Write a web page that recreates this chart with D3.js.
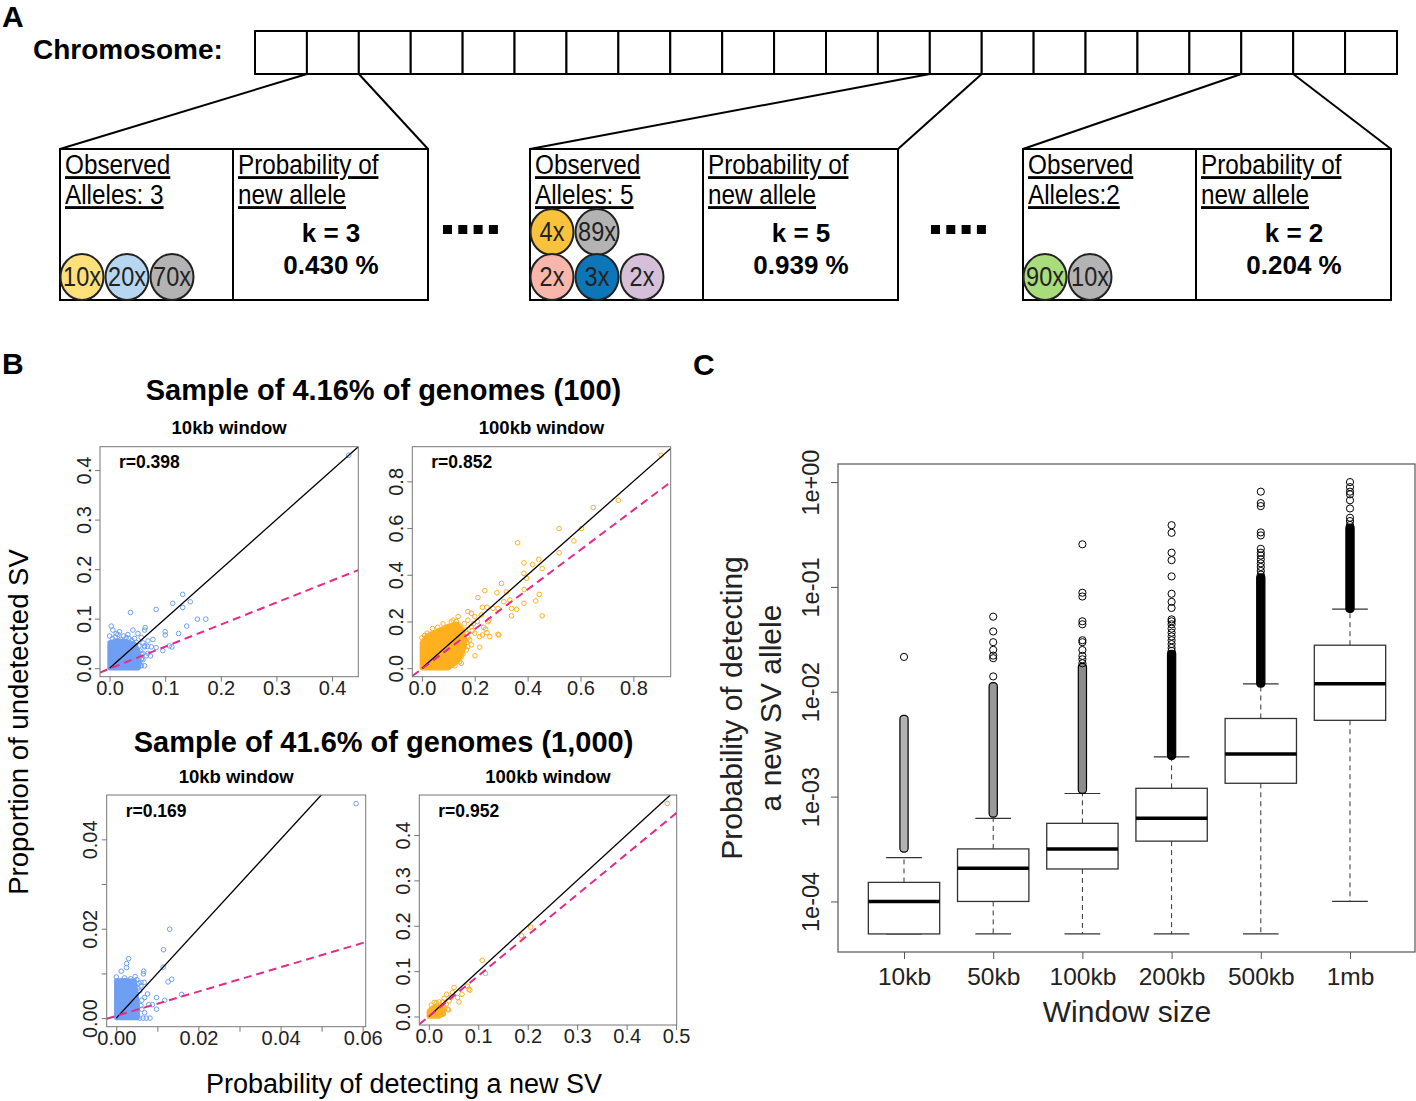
<!DOCTYPE html>
<html>
<head>
<meta charset="utf-8">
<script src="https://cdn.jsdelivr.net/npm/d3@7"></script>
<style>
  body { margin: 0; background: #fff; }
</style>
</head>
<body>
<div id="chart"></div>
<script>
// ---------------- Panel A data ----------------
var chromCells = d3.range(22);
var zoomCells = [1, 13, 19];
var alleleLabels = ["Alleles: 3", "Alleles: 5", "Alleles:2"];
var kValues = [3, 5, 2];
var newAllelePct = ["0.430", "0.939", "0.204"];
var alleleCounts = [[10, 20, 70], [4, 89, 2, 3, 2], [90, 10]];
var alleleColors = [
    ["#ffe07b", "#b7d7f1", "#b3b3b3"],
    ["#f9c23c", "#b3b3b3", "#f9b7ab", "#0d76b8", "#d6c0d9"],
    ["#a9dc7b", "#b3b3b3"]
];

// ---------------- Panel B data ----------------
var rowTitles = ["Sample of 4.16% of genomes (100)", "Sample of 41.6% of genomes (1,000)"];
var windowTitles = ["10kb window", "100kb window", "10kb window", "100kb window"];
var rValues = ["0.398", "0.852", "0.169", "0.952"];
var fitSlope = [0.445, 0.85, 0.272, 0.896];
var fitIntercept = [-0.001, -0.003, 0.0005, 0];

// scattered points
var pts10kb100 = [[0.43,0.43],[0.1315,0.149],[0.0837,0.1186],[0.0376,0.1125],[0.1136,0.131],[0.145,0.134],
    [0.1315,0.1226],[0.158,0.099],[0.173,0.099],[0.1387,0.085],[0.124,0.07],[0.1,0.0736],[0.1,0.067],
    [0.112,0.043],[0.1075,0.045],[0.0957,0.0354],[0.0837,0.0414],[0.0735,0.0247],[0.063,0.005],[0.078,0.058],
    [0.075,0.043],[0.063,0.077],[0.064,0.082],[0.042,0.077],[0.018,0.0736],[0.012,0.07],[0.003,0.085],
    [0.006,0.077],[0.051,0.07],[0.057,0.062],[0.06,0.051],[0.063,0.043],[0.069,0.055],[0.057,0.018],
    [0.051,0.01],[0.005,0.06],[0.01,0.063],[0.02,0.058],[0.025,0.065],[0.03,0.062],[0.035,0.06],[0.04,0.056],
    [0.045,0.06],[0.055,0.035],[0.058,0.028],[0.058,0.02],[0.055,0.005],[0.06,0.03],[0.066,0.025],[0.069,0.03],
    [0.068,0.044],[0.063,0.045],[0.053,0.045],[0.06,0.017],[0.057,0.005],[0,0.065],[0.015,0.068],[0.033,0.068],
    [0.048,0.052]];
var pts100kb100 = [[0.905,0.912],[0.743,0.719],[0.648,0.688],[0.604,0.598],[0.575,0.545],[0.519,0.598],
    [0.519,0.494],[0.362,0.537],[0.442,0.466],[0.455,0.427],[0.419,0.444],[0.386,0.451],[0.386,0.406],
    [0.396,0.385],[0.301,0.363],[0.455,0.224],[0.444,0.316],[0.431,0.288],[0.386,0.278],[0.358,0.252],
    [0.339,0.224],[0.288,0.145],[0.238,0.332],[0.284,0.323],[0.32,0.327],[0.387,0.337],[0.212,0.303],
    [0.31,0.285],[0.333,0.292],[0.339,0.256],[0.288,0.256],[0.269,0.256],[0.246,0.261],[0.229,0.261],
    [0.174,0.242],[0.187,0.235],[0.25,0.199],[0.254,0.206],[0.234,0.175],[0.241,0.167],[0.219,0.135],
    [0.229,0.142],[0.246,0.152],[0.257,0.135],[0.291,0.142],[0.219,0.09],[0.201,0.053],[0.137,0.221],
    [0.174,0.206],[0.187,0.178],[0.2,0.15],[0.181,0.121],[0.187,0.1],[0.168,0.078],[0.174,0.092],
    [0.149,0.05],[0.143,0.028],[0.111,0.014],[0.149,0.021],[0.111,0.199],[0.118,0.206],[0.099,0.178],
    [0.09,0.167],[0.166,0.164],[0.155,0.135],[0.225,0.228],[0.2,0.221],[0.02,0.15],[0.04,0.17],[0.06,0.175],
    [0.08,0.19],[0.13,0.2],[0.14,0.185],[0.16,0.19],[0.17,0.15],[0.175,0.13],[0.17,0.11],[0.16,0.09],
    [0.155,0.06],[0.14,0.04],[0.125,0.01],[0,0.13],[0.01,0.14],[0.19,0.16],[0.21,0.2],[0.195,0.19],
    [0.13,0.05],[0.1,0.005]];
var pts10kb1000 = [[0.0584,0.048],[0.013,0.0199],[0.0115,0.0153],[0.0114,0.0114],[0.003,0.0133],
    [0.0025,0.0122],[0.0025,0.0113],[0.0012,0.0105],[0.0067,0.0105],[0.0066,0.0099],[0.0046,0.0093],
    [0.0135,0.0087],[0.0126,0.0081],[0.0159,0.0053],[0.0098,0.0046],[0.0118,0.004],[0.0098,0.002],
    [0.006,0.0028],[0.0079,0.003],[0.0088,0.003],[0.0069,0.0012],[0.0073,0],[0.0057,0],[0.006,0.008],
    [0.0068,0.008],[0.0076,0.0054],[0.0069,0.0046],[0.0057,0.0061],[0.006,0.0072],[0.0053,0.0067],
    [0.0065,0],[0.0082,0],[0,0.0092],[0.002,0.009],[0.0035,0.0088],[0.005,0.0086],[0.0062,0.004],
    [0.0062,0.002],[0.0055,0.0078]];
var pts100kb1000 = [[0.482,0.4695],[0.206,0.197],[0.1875,0.178],[0.108,0.124],[0.1145,0.095],[0.081,0.06],
    [0.078,0.067],[0.051,0.064],[0.067,0.049],[0.061,0.032],[0.036,0.049],[0.041,0.034],[0.045,0.042],
    [0.018,0.023],[0.025,0.023],[0.038,0.016],[0.028,0.012],[0.048,0.053],[0.031,0.04],[0.028,0.032],
    [0.021,0.032],[0.011,0.031],[0.04,0.0145],[0.031,0.02],[0.035,0.027],[0.058,0.042],[0.083,0.058],
    [0.005,0.025],[0.015,0.03]];

// overplotted cores (solid blobs of points)
var core10kb100 = [[0,0],[0,0.052],[0.015,0.056],[0.03,0.054],[0.045,0.049],[0.052,0.034],[0.054,0.012],[0.052,0]];
var core100kb100 = [[0,0],[0,0.11],[0.02,0.14],[0.06,0.16],[0.1,0.18],[0.13,0.19],[0.15,0.17],[0.165,0.12],
    [0.155,0.07],[0.13,0.025],[0.1,0]];
var core10kb1000 = [[0,0],[0,0.0084],[0.002,0.0085],[0.0045,0.0083],[0.0048,0.006],[0.0052,0.003],[0.0052,0]];
var core100kb1000 = [[0,0],[0,0.012],[0.008,0.02],[0.02,0.022],[0.03,0.018],[0.03,0.005],[0.02,0]];

// ---------------- Panel C data ----------------
var windowSizes = ["10kb", "50kb", "100kb", "200kb", "500kb", "1mb"];
var whiskerLow = [4.9e-5, 4.9e-5, 4.9e-5, 4.9e-5, 4.9e-5, 1.0e-4];
var quart1 = [4.9e-5, 1.0e-4, 2.04e-4, 3.76e-4, 1.34e-3, 5.34e-3];
var medians = [1.0e-4, 2.07e-4, 3.17e-4, 6.2e-4, 2.55e-3, 1.19e-2];
var quart3 = [1.52e-4, 3.17e-4, 5.56e-4, 1.2e-3, 5.56e-3, 2.78e-2];
var whiskerHigh = [2.62e-4, 6.2e-4, 1.07e-3, 2.39e-3, 1.19e-2, 6.15e-2];
// ranges where outliers overlap into a continuous column
var outlierRuns = [[3.2e-4, 5.5e-3], [6.9e-4, 1.13e-2], [1.16e-3, 1.72e-2], [2.45e-3, 2.3e-2], [1.2e-2, 1.23e-1], [6.2e-2, 3.67e-1]];
var outliers = [
    [2.15e-2],
    [1.4e-2, 2.09e-2, 2.21e-2, 2.51e-2, 2.97e-2, 3.76e-2, 5.2e-2],
    [1.87e-2, 2.04e-2, 2.2e-2, 2.5e-2, 2.97e-2, 3.1e-2, 4.4e-2, 4.7e-2, 8.1e-2, 8.8e-2, 0.255],
    [2.45e-2, 2.62e-2, 2.85e-2, 3.1e-2, 3.37e-2, 3.66e-2, 4.0e-2, 4.4e-2, 4.7e-2, 4.9e-2, 6.3e-2, 7.2e-2, 8.6e-2, 0.126, 0.18, 0.212, 0.328, 0.388],
    [0.131, 0.142, 0.155, 0.168, 0.183, 0.199, 0.212, 0.231, 0.31, 0.331, 0.59, 0.63, 0.81],
    [0.39, 0.425, 0.457, 0.56, 0.67, 0.764, 0.81, 0.895, 1.0]
];
var yTicksC = [1e-4, 1e-3, 1e-2, 1e-1, 1];

// ---------------- drawing ----------------
var FONT = "'Liberation Sans', Arial, sans-serif";

var svg = d3.select("#chart").append("svg")
    .attr("width", 1416)
    .attr("height", 1101)
    .style("font-family", FONT);

function label(x, y, txt, size, bold) {
    return svg.append("text").attr("x", x).attr("y", y)
        .attr("font-size", size).attr("font-weight", bold ? "bold" : "normal")
        .text(txt);
}

// tall, narrow text as in the schematic (stretched vertically)
function narrowText(parent, x, y, txt, size) {
    return parent.append("text")
        .attr("transform", "translate(" + x + "," + y + ") scale(1,1.17)")
        .attr("font-size", size).text(txt);
}

label(2, 27, "A", 30, true);
label(2, 374, "B", 30, true);
label(693, 375, "C", 30, true);

// ****************** Panel A ******************
var gA = svg.append("g");
gA.append("text").attr("x", 33).attr("y", 59).attr("font-size", 28)
    .attr("font-weight", "bold").text("Chromosome:");

var xChrom = d3.scaleBand().domain(chromCells).range([255, 1397]);
gA.selectAll("rect.cell").data(chromCells).join("rect")
    .attr("class", "cell")
    .attr("x", function (d) { return xChrom(d); })
    .attr("y", 31)
    .attr("width", xChrom.bandwidth())
    .attr("height", 43)
    .attr("fill", "#fff").attr("stroke", "#000").attr("stroke-width", 2);

var boxLeft = [60, 530, 1023], boxW = 368, boxTop = 149, boxBottom = 300, split = 173;

zoomCells.forEach(function (cell, i) {
    var L = boxLeft[i], g = gA.append("g");
    // zoom lines
    g.append("line").attr("x1", L).attr("y1", boxTop).attr("x2", xChrom(cell)).attr("y2", 74)
        .attr("stroke", "#000").attr("stroke-width", 2);
    g.append("line").attr("x1", L + boxW).attr("y1", boxTop).attr("x2", xChrom(cell) + xChrom.bandwidth()).attr("y2", 74)
        .attr("stroke", "#000").attr("stroke-width", 2);
    g.append("rect").attr("x", L).attr("y", boxTop).attr("width", boxW).attr("height", boxBottom - boxTop)
        .attr("fill", "#fff").attr("stroke", "#000").attr("stroke-width", 2);
    g.append("line").attr("x1", L + split).attr("x2", L + split).attr("y1", boxTop).attr("y2", boxBottom)
        .attr("stroke", "#000").attr("stroke-width", 2);

    var heads = [["Observed", alleleLabels[i]], ["Probability of", "new allele"]];
    heads.forEach(function (lines, c) {
        lines.forEach(function (t, r) {
            narrowText(g, L + 5 + c * split, 174 + r * 30, t, 24.3)
                .style("text-decoration", "underline");
        });
    });
    g.append("text").attr("x", L + split + 98).attr("y", 242).attr("text-anchor", "middle")
        .attr("font-size", 26).attr("font-weight", "bold").text("k = " + kValues[i]);
    g.append("text").attr("x", L + split + 98).attr("y", 274).attr("text-anchor", "middle")
        .attr("font-size", 26).attr("font-weight", "bold").text(newAllelePct[i] + " %");

    // allele circles: bottom row holds the last three, the rest sit above
    var counts = alleleCounts[i], n = counts.length, nBottom = Math.min(3, n);
    var circ = g.selectAll("g.allele").data(counts).join("g").attr("class", "allele")
        .attr("transform", function (d, j) {
            var top = j < n - nBottom;
            var col = top ? j : j - (n - nBottom);
            return "translate(" + (L + 22 + col * 45) + "," + (top ? 232 : 277) + ")";
        });
    circ.append("ellipse").attr("rx", 21.5).attr("ry", 23)
        .attr("fill", function (d, j) { return alleleColors[i][j]; })
        .attr("stroke", "#222").attr("stroke-width", 2);
    circ.append("text").attr("transform", "translate(0,9) scale(1,1.2)").attr("text-anchor", "middle")
        .attr("font-size", 23.5).attr("fill", "#222")
        .text(function (d) { return d + "x"; });
});

// "...." separators
[443, 931].forEach(function (x0) {
    gA.selectAll(null).data(d3.range(4)).join("rect")
        .attr("x", function (d) { return x0 + d * 15.3; })
        .attr("y", 225).attr("width", 9).attr("height", 9).attr("fill", "#000");
});

// ****************** Panel B ******************
var frames = [
    { x0: 100, y0: 446.7, x1: 358.3, y1: 676.7 },
    { x0: 412.3, y0: 446.7, x1: 670.7, y1: 676.7 },
    { x0: 106.7, y0: 795, x1: 365.7, y1: 1026.7 },
    { x0: 419.3, y0: 795, x1: 676.7, y1: 1025 }
];
var points = [pts10kb100, pts100kb100, pts10kb1000, pts100kb1000];
var cores = [core10kb100, core100kb100, core10kb1000, core100kb1000];
var colors = ["#6f9ff2", "#ffb01f", "#6f9ff2", "#ffb01f"];
var tickFmt = [".1f", ".1f", ".2f", ".1f"];
var labelEvery = [1, 1, 2, 1];

label(383.5, 400, rowTitles[0], 29, true).attr("text-anchor", "middle");
label(383.5, 752, rowTitles[1], 29, true).attr("text-anchor", "middle");

svg.append("text").attr("transform", "translate(28,722) rotate(-90)").attr("text-anchor", "middle")
    .attr("font-size", 27.5).text("Proportion of undetected SV");
label(404, 1093, "Probability of detecting a new SV", 27).attr("text-anchor", "middle");

function pad4(ext) {
    var r = ext[1] - ext[0];
    return [ext[0] - 0.04 * r, ext[1] + 0.04 * r];
}

frames.forEach(function (f, k) {
    var all = points[k].concat(cores[k]);
    var x = d3.scaleLinear().domain(pad4(d3.extent(all, function (d) { return d[0]; }))).range([f.x0, f.x1]);
    var y = d3.scaleLinear().domain(pad4(d3.extent(all, function (d) { return d[1]; }))).range([f.y1, f.y0]);
    var g = svg.append("g");

    g.append("text").attr("x", (f.x0 + f.x1) / 2).attr("y", f.y0 - 12.5).attr("text-anchor", "middle")
        .attr("font-size", 18.5).attr("font-weight", "bold").text(windowTitles[k]);

    g.append("clipPath").attr("id", "clipB" + k).append("rect")
        .attr("x", f.x0).attr("y", f.y0).attr("width", f.x1 - f.x0).attr("height", f.y1 - f.y0);
    var plot = g.append("g").attr("clip-path", "url(#clipB" + k + ")");

    plot.append("path").datum(cores[k])
        .attr("d", d3.line().x(function (d) { return x(d[0]); }).y(function (d) { return y(d[1]); }).curve(d3.curveLinearClosed))
        .attr("fill", colors[k]).attr("stroke", colors[k]).attr("stroke-width", 4.5).attr("stroke-linejoin", "round");
    plot.selectAll("circle").data(points[k]).join("circle")
        .attr("cx", function (d) { return x(d[0]); })
        .attr("cy", function (d) { return y(d[1]); })
        .attr("r", 2.3).attr("fill", "none").attr("stroke", colors[k]).attr("stroke-width", 1);

    var m = Math.min(x.domain()[1], y.domain()[1]);
    plot.append("line").attr("x1", x(0)).attr("y1", y(0)).attr("x2", x(m)).attr("y2", y(m))
        .attr("stroke", "#000").attr("stroke-width", 1.3);
    var xd = x.domain();
    plot.append("line")
        .attr("x1", x(xd[0])).attr("y1", y(fitIntercept[k] + fitSlope[k] * xd[0]))
        .attr("x2", x(xd[1])).attr("y2", y(fitIntercept[k] + fitSlope[k] * xd[1]))
        .attr("stroke", "#e7298a").attr("stroke-width", 2).attr("stroke-dasharray", "8,5");

    var fmt = d3.format(tickFmt[k]);
    var xAxis = d3.axisBottom(x).tickValues(x.ticks(5)).tickSize(5)
        .tickFormat(function (d, i) { return i % labelEvery[k] ? "" : fmt(d); });
    g.append("g").attr("transform", "translate(0," + f.y1 + ")").call(xAxis)
        .attr("font-size", 20).attr("font-family", FONT)
        .call(function (s) { s.select(".domain").remove(); })
        .call(function (s) { s.selectAll("line").attr("stroke", "#777"); })
        .call(function (s) { s.selectAll("text").attr("y", 18).attr("dy", null).attr("fill", "#222"); });

    var yAxis = d3.axisLeft(y).tickValues(y.ticks(5)).tickSize(5)
        .tickFormat(function (d, i) { return i % labelEvery[k] ? "" : fmt(d); });
    g.append("g").attr("transform", "translate(" + f.x0 + ",0)").call(yAxis)
        .attr("font-size", 20).attr("font-family", FONT)
        .call(function (s) { s.select(".domain").remove(); })
        .call(function (s) { s.selectAll("line").attr("stroke", "#777"); })
        .call(function (s) {
            s.selectAll("text").attr("x", null).attr("dy", null).attr("fill", "#222")
                .attr("text-anchor", "middle").attr("transform", "translate(-9.5,0) rotate(-90)");
        });

    g.append("rect").attr("x", f.x0).attr("y", f.y0).attr("width", f.x1 - f.x0).attr("height", f.y1 - f.y0)
        .attr("fill", "none").attr("stroke", "#777").attr("stroke-width", 1);

    g.append("text").attr("x", f.x0 + 19).attr("y", f.y0 + 21.5)
        .attr("font-size", 17.5).attr("font-weight", "bold").text("r=" + rValues[k]);
});

// ****************** Panel C ******************
var fC = { x0: 838, y0: 464, x1: 1416, y1: 952 };
var gC = svg.append("g");

var xC = d3.scalePoint().domain(windowSizes).range([fC.x0, fC.x1]).padding(0.74);
var allC = whiskerLow.concat(d3.merge(outliers), d3.merge(outlierRuns));
var lg = pad4([Math.log10(d3.min(allC)), Math.log10(d3.max(allC))]);
var yC = d3.scaleLog().domain([Math.pow(10, lg[0]), Math.pow(10, lg[1])]).range([fC.y1, fC.y0]);

var step = xC.step(), halfBox = step * 0.4, halfCap = step * 0.2, rOut = 3.6;
var runShade = [0.3, 0.4, 0.45, 1, 1, 1];

var groups = gC.selectAll("g.box").data(windowSizes).join("g").attr("class", "box")
    .attr("transform", function (d) { return "translate(" + xC(d) + ",0)"; });

// whiskers
groups.append("line").attr("y1", function (d, i) { return yC(quart3[i]); })
    .attr("y2", function (d, i) { return yC(whiskerHigh[i]); })
    .attr("stroke", "#333").attr("stroke-dasharray", "5,4");
groups.append("line").attr("y1", function (d, i) { return yC(quart1[i]); })
    .attr("y2", function (d, i) { return yC(whiskerLow[i]); })
    .attr("stroke", "#333").attr("stroke-dasharray", "5,4");
groups.append("line").attr("x1", -halfCap).attr("x2", halfCap)
    .attr("y1", function (d, i) { return yC(whiskerHigh[i]); })
    .attr("y2", function (d, i) { return yC(whiskerHigh[i]); })
    .attr("stroke", "#333").attr("stroke-width", 1.2);
groups.append("line").attr("x1", -halfCap).attr("x2", halfCap)
    .attr("y1", function (d, i) { return yC(whiskerLow[i]); })
    .attr("y2", function (d, i) { return yC(whiskerLow[i]); })
    .attr("stroke", "#333").attr("stroke-width", 1.2);
// boxes
groups.append("rect").attr("x", -halfBox).attr("width", 2 * halfBox)
    .attr("y", function (d, i) { return yC(quart3[i]); })
    .attr("height", function (d, i) { return yC(quart1[i]) - yC(quart3[i]); })
    .attr("fill", "#fff").attr("stroke", "#333").attr("stroke-width", 1.3);
groups.append("line").attr("x1", -halfBox).attr("x2", halfBox)
    .attr("y1", function (d, i) { return yC(medians[i]); })
    .attr("y2", function (d, i) { return yC(medians[i]); })
    .attr("stroke", "#000").attr("stroke-width", 3.5);
// dense outlier columns
groups.append("rect").attr("x", -rOut - 0.5).attr("width", 2 * rOut + 1).attr("rx", rOut)
    .attr("y", function (d, i) { return yC(outlierRuns[i][1]) - rOut; })
    .attr("height", function (d, i) { return yC(outlierRuns[i][0]) - yC(outlierRuns[i][1]) + 2 * rOut; })
    .attr("fill", "#000").attr("fill-opacity", function (d, i) { return runShade[i]; })
    .attr("stroke", "#000").attr("stroke-width", 1.2);
// single outliers
groups.each(function (d, i) {
    d3.select(this).selectAll("circle").data(outliers[i]).join("circle")
        .attr("cy", function (v) { return yC(v); })
        .attr("r", rOut).attr("fill", "none").attr("stroke", "#000").attr("stroke-width", 1);
});

// axes
gC.append("g").attr("transform", "translate(0," + fC.y1 + ")")
    .call(d3.axisBottom(xC).tickSize(7))
    .attr("font-size", 24.5).attr("font-family", FONT)
    .call(function (s) { s.select(".domain").remove(); })
    .call(function (s) { s.selectAll("line").attr("stroke", "#555"); })
    .call(function (s) { s.selectAll("text").attr("y", 33).attr("dy", null).attr("fill", "#222"); });

gC.append("g").attr("transform", "translate(" + fC.x0 + ",0)")
    .call(d3.axisLeft(yC).tickValues(yTicksC).tickSize(7).tickFormat(function (v) {
        var e = Math.round(Math.log10(v));
        return "1e" + (e < 0 ? "-" : "+") + String(Math.abs(e)).padStart(2, "0");
    }))
    .attr("font-size", 23.5).attr("font-family", FONT)
    .call(function (s) { s.select(".domain").remove(); })
    .call(function (s) { s.selectAll("line").attr("stroke", "#555"); })
    .call(function (s) {
        s.selectAll("text").attr("x", null).attr("dy", null).attr("fill", "#222")
            .attr("text-anchor", "middle").attr("transform", "translate(-19,0) rotate(-90)");
    });

gC.append("rect").attr("x", fC.x0).attr("y", fC.y0).attr("width", fC.x1 - fC.x0 - 1).attr("height", fC.y1 - fC.y0)
    .attr("fill", "none").attr("stroke", "#555").attr("stroke-width", 1.2);

gC.append("text").attr("x", (fC.x0 + fC.x1) / 2).attr("y", 1022).attr("text-anchor", "middle")
    .attr("font-size", 30).attr("fill", "#222").text("Window size");
gC.append("text").attr("transform", "translate(742," + (fC.y0 + fC.y1) / 2 + ") rotate(-90)")
    .attr("text-anchor", "middle").attr("font-size", 30).attr("fill", "#222").text("Probability of detecting");
gC.append("text").attr("transform", "translate(781," + (fC.y0 + fC.y1) / 2 + ") rotate(-90)")
    .attr("text-anchor", "middle").attr("font-size", 30).attr("fill", "#222").text("a new SV allele");
</script>
</body>
</html>
